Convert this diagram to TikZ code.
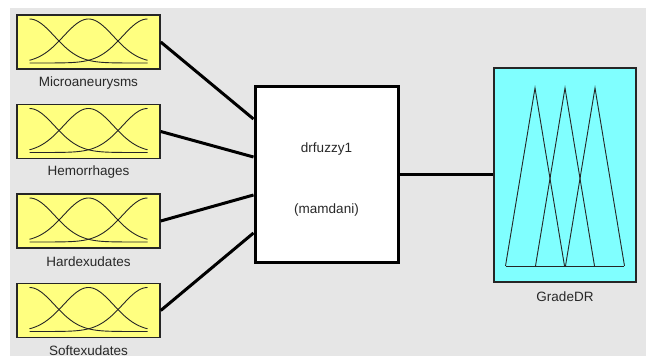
\documentclass[tikz,border=0pt]{standalone}
\usepackage{fontspec}
\setmainfont{Liberation Sans}
\usepackage{tikz}
\usetikzlibrary{shapes.geometric, arrows}
\definecolor{bggray}{RGB}{230,230,230}
\definecolor{mfyellow}{RGB}{255,255,128}
\definecolor{mfcyan}{RGB}{128,255,255}
\definecolor{txtgray}{RGB}{40,40,40}
\tikzstyle{invar} =
[rectangle, minimum width = 143pt, minimum height = 54pt, inner sep = 0pt,
draw=black!85, line width = 1.5pt, fill=mfyellow]
\tikzstyle{outvar} =
[rectangle, minimum width = 142pt, minimum height = 214pt, inner sep = 0pt,
draw=black!85, line width = 1.5pt, fill=mfcyan]
\tikzstyle{fisbox} =
[rectangle, minimum width = 143pt, minimum height = 176pt, inner sep = 0pt,
draw=black, line width = 3pt, fill=white]
\tikzstyle{lbl} =
[text=txtgray, font=\fontsize{13.5}{15}\selectfont, inner sep = 0pt]
\tikzstyle{mf} = [draw=black!85, line width = 0.9pt]
\tikzstyle{line} = [draw, line width = 3pt]

\begin{document}
\begin{tikzpicture}[x=1pt, y=1pt, node distance = 89.5pt]
  \useasboundingbox (0,0) rectangle (646,356);
  \fill [bggray] (10,0) rectangle (646,348);
  % input nodes
  \node [invar] (micro) at (88.5,314) {};
  \node [invar, below of=micro] (hemo) {};
  \node [invar, below of=hemo] (hard) {};
  \node [invar, below of=hard] (soft) {};
  \node [lbl, below of=micro, node distance=41pt] (lmicro) {Microaneurysms};
  \node [lbl, below of=hemo, node distance=41pt] (lhemo) {Hemorrhages};
  \node [lbl, below of=hard, node distance=41pt] (lhard) {Hardexudates};
  \node [lbl, below of=soft, node distance=40pt] (lsoft) {Softexudates};
  % membership functions
  \foreach \v in {micro, hemo, hard, soft} {
    \foreach \c in {-59, 0, 59} {
      \draw [mf, shift={(\v.center)}] plot [domain=-59:59, samples=70, smooth]
        (\x, {-21+44*exp(-((\x-\c)^2)/1250)});
    }
  }
  % fis and output nodes
  \node [fisbox] (fis) at (326.5,181) {};
  \node [lbl, above of=fis, node distance=26pt] (fisname) {drfuzzy1};
  \node [lbl, below of=fis, node distance=35pt] (fistype) {(mamdani)};
  \node [outvar] (grade) at (565,181) {};
  \node [lbl, below of=grade, node distance=122pt] (lgrade) {GradeDR};
  \foreach \c in {-30, 0, 30} {
    \draw [mf, shift={(grade.center)}] (\c-29.5,-91) -- (\c,87) -- (\c+29.5,-91);
  }
  \draw [mf, shift={(grade.center)}] (-59,-91) -- (59,-91);
  % edges
  \path [line] (micro.east) -- ([yshift=56pt]fis.west);
  \path [line] (hemo.east) -- ([yshift=18pt]fis.west);
  \path [line] (hard.east) -- ([yshift=-20pt]fis.west);
  \path [line] (soft.east) -- ([yshift=-58pt]fis.west);
  \path [line] (fis) -- (grade);
\end{tikzpicture}
\end{document}
